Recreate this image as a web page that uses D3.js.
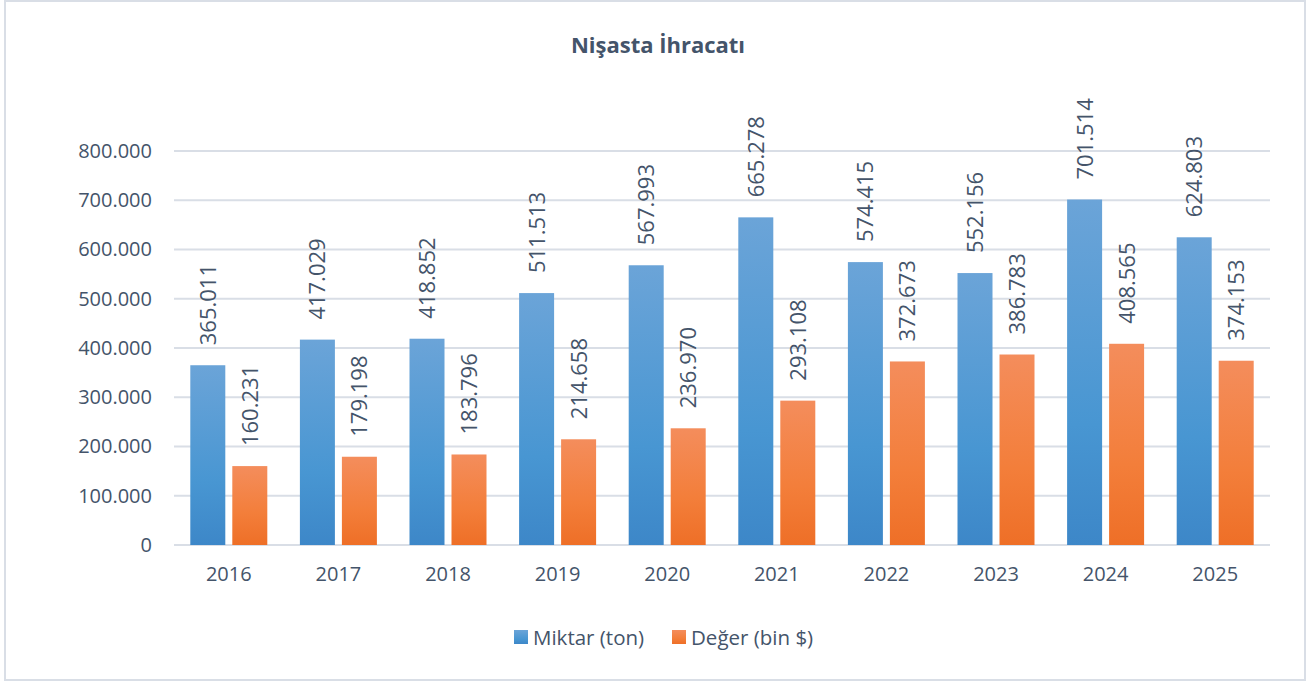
<!DOCTYPE html>
<html>
<head>
<meta charset="utf-8">
<script src="https://cdn.jsdelivr.net/npm/d3@7"></script>
<style>
  body { margin: 0; background: #fff; font-family: "Open Sans", sans-serif; }
</style>
</head>
<body>
<div id="chart"></div>
<script>
var years = ["2016", "2017", "2018", "2019", "2020", "2021", "2022", "2023", "2024", "2025"];
var miktar = [365011, 417029, 418852, 511513, 567993, 665278, 574415, 552156, 701514, 624803];
var deger = [160231, 179198, 183796, 214658, 236970, 293108, 372673, 386783, 408565, 374153];
var yTicks = [0, 100000, 200000, 300000, 400000, 500000, 600000, 700000, 800000];
var seriesNames = ["Miktar (ton)", "Değer (bin $)"];

var width = 1309;
var height = 683;
var textColor = "#44546a";

var svg = d3.select("#chart")
  .append("svg")
  .attr("width", width)
  .attr("height", height);

// gradients
var defs = svg.append("defs");
var blue = defs.append("linearGradient").attr("id", "gBlue")
  .attr("x1", 0).attr("y1", 0).attr("x2", 0).attr("y2", 1);
blue.append("stop").attr("offset", "0%").attr("stop-color", "#6ba4d8");
blue.append("stop").attr("offset", "65%").attr("stop-color", "#4896d2");
blue.append("stop").attr("offset", "100%").attr("stop-color", "#3d87c8");
var orange = defs.append("linearGradient").attr("id", "gOrange")
  .attr("x1", 0).attr("y1", 0).attr("x2", 0).attr("y2", 1);
orange.append("stop").attr("offset", "0%").attr("stop-color", "#f48d5c");
orange.append("stop").attr("offset", "60%").attr("stop-color", "#f37e3a");
orange.append("stop").attr("offset", "100%").attr("stop-color", "#ee6f27");

// border
svg.append("rect")
  .attr("x", 5).attr("y", 1)
  .attr("width", 1300).attr("height", 679)
  .attr("fill", "none")
  .attr("stroke", "#d9dee6")
  .attr("stroke-width", 2);

var plotLeft = 174, plotRight = 1270, plotTop = 151, plotBottom = 545;

var xScale = d3.scaleBand()
  .domain(years)
  .range([plotLeft, plotRight]);

var yScale = d3.scaleLinear()
  .domain([0, 800000])
  .range([plotBottom, plotTop]);

var barW = 35, gap = 7;

// grid
svg.append("g")
  .selectAll("line")
  .data(yTicks)
  .enter()
  .append("line")
  .attr("x1", plotLeft).attr("x2", plotRight)
  .attr("y1", d => yScale(d)).attr("y2", d => yScale(d))
  .attr("stroke", "#d9dee6")
  .attr("stroke-width", 2);

var fmt = d3.formatLocale({ decimal: ",", thousands: ".", grouping: [3], currency: ["", ""] }).format(",");

// y axis
var yAxis = d3.axisLeft(yScale)
  .tickValues(yTicks)
  .tickSize(0)
  .tickPadding(22)
  .tickFormat(fmt);

svg.append("g")
  .attr("transform", "translate(" + plotLeft + ",0)")
  .call(yAxis)
  .call(g => g.select(".domain").remove())
  .selectAll("text")
  .style("font-family", "Open Sans")
  .style("font-size", "20px")
  .style("fill", textColor);

// x axis
var xAxis = d3.axisBottom(xScale).tickSize(0).tickPadding(22);
svg.append("g")
  .attr("transform", "translate(0," + plotBottom + ")")
  .call(xAxis)
  .call(g => g.select(".domain").remove())
  .selectAll("text")
  .style("font-family", "Open Sans")
  .style("font-size", "20px")
  .style("fill", textColor);

var series = [
  { values: miktar, fill: "url(#gBlue)", offset: -(gap / 2 + barW) },
  { values: deger, fill: "url(#gOrange)", offset: gap / 2 }
];

series.forEach(function (s) {
  var g = svg.append("g");
  g.selectAll("rect")
    .data(s.values)
    .enter()
    .append("rect")
    .attr("x", (d, i) => xScale(years[i]) + xScale.bandwidth() / 2 + s.offset)
    .attr("y", d => yScale(d))
    .attr("width", barW)
    .attr("height", d => plotBottom - yScale(d))
    .attr("fill", s.fill);

  g.selectAll("text")
    .data(s.values)
    .enter()
    .append("text")
    .attr("transform", (d, i) => {
      var cx = xScale(years[i]) + xScale.bandwidth() / 2 + s.offset + barW / 2 + 8;
      var cy = yScale(d) - 20;
      return "translate(" + cx + "," + cy + ") rotate(-90)";
    })
    .text(d => fmt(d))
    .style("font-family", "Open Sans")
    .style("font-size", "22px")
    .style("fill", textColor);
});

// title
svg.append("text")
  .attr("x", 658)
  .attr("y", 53)
  .attr("text-anchor", "middle")
  .text("Nişasta İhracatı")
  .style("font-family", "Open Sans")
  .style("font-size", "22px")
  .style("font-weight", "bold")
  .style("fill", textColor);

// legend
var legendX = [514, 672];
var legendFill = ["url(#gBlue)", "url(#gOrange)"];
var legend = svg.append("g");
seriesNames.forEach(function (name, i) {
  legend.append("rect")
    .attr("x", legendX[i]).attr("y", 630)
    .attr("width", 14).attr("height", 14)
    .attr("fill", legendFill[i]);
  legend.append("text")
    .attr("x", legendX[i] + 19)
    .attr("y", 645)
    .text(name)
    .style("font-family", "Open Sans")
    .style("font-size", "20.5px")
    .style("fill", textColor);
});
</script>
</body>
</html>
